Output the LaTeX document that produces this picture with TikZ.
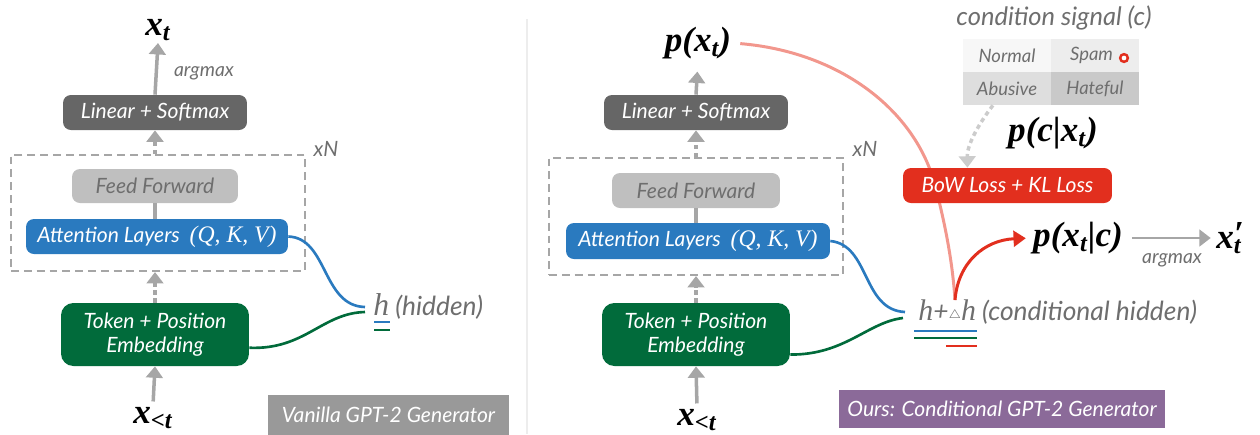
\documentclass[tikz,border=0pt]{standalone}
\usepackage{fontspec}
\setmainfont{Lato}
\newfontfamily\serifa{Liberation Serif}
\usetikzlibrary{arrows.meta}
\definecolor{grisosc}{HTML}{666666}
\definecolor{grisff}{HTML}{BFBFBF}
\definecolor{azul}{HTML}{2A7ABF}
\definecolor{verde}{HTML}{016B3B}
\definecolor{rojo}{HTML}{E22F1E}
\definecolor{rosa}{HTML}{F2978D}
\definecolor{gristexto}{HTML}{6E6E6E}
\definecolor{gflecha}{HTML}{A6A6A6}
\definecolor{morado}{HTML}{8B6A99}
\definecolor{grisbanda}{HTML}{999999}
\newcommand{\qkv}{{\serifa\fontsize{13.5}{14}\selectfont(Q, K, V)}}
\tikzset{
  caja/.style={rounded corners=4.5pt, inner sep=0pt, align=center, text=white, font=\fontsize{12}{13.5}\selectfont\itshape},
  flecha/.style={draw=gflecha, line width=2pt, -{Triangle[length=6.5pt,width=9.5pt]}},
  punteada/.style={flecha, dash pattern=on 2.5pt off 2pt},
  marco/.style={draw=gflecha, line width=1.2pt, dash pattern=on 4.5pt off 2.8pt, inner sep=0pt},
  mate/.style={inner sep=1pt, font=\serifa\bfseries\itshape\fontsize{20}{22}\selectfont},
  nota/.style={inner sep=0pt, text=gristexto, font=\fontsize{11}{13}\selectfont\itshape},
  curva/.style={line width=1.5pt},
  banda/.style={inner sep=0pt, text=white, font=\fontsize{12}{14}\selectfont\itshape},
  celda/.style={inner sep=0pt, minimum width=1.76cm, minimum height=0.66cm, text=gristexto, font=\fontsize{10.5}{12}\selectfont\itshape}
}
\begin{document}
\begin{tikzpicture}[x=0.02cm,y=-0.02cm]
\useasboundingbox (0,0) rectangle (1260,434); % marco de la figura
% generador GPT-2 simple
\node[mate] (xt1) at (158,30) {x\textsubscript{t}}; % salida
\node[caja, fill=grisosc, minimum width=3.68cm, minimum height=0.7cm] (lin1) at (155,112.5) {Linear + Softmax};
\node[nota] (am1) at (204,73) {argmax};
\node[marco, minimum width=5.88cm, minimum height=2.32cm] (rep1) at (158,213) {}; % bloque repetido
\node[nota, font=\fontsize{12}{14}\selectfont\itshape] (xn1) at (326,149) {xN};
\node[caja, fill=grisff, text=gristexto, minimum width=3.32cm, minimum height=0.68cm] (ff1) at (155,186) {Feed Forward};
\node[caja, fill=azul, minimum width=5.24cm, minimum height=0.7cm] (att1) at (157,236.5) {Attention Layers\ \ \qkv};
\node[caja, fill=verde, rounded corners=7pt, minimum width=3.76cm, minimum height=1.26cm] (tok1) at (155,334.5) {Token + Position\\Embedding};
\node[mate] (xlt1) at (153,418) {x\textsubscript{<t}}; % entrada
\node[nota, anchor=west, font=\fontsize{15}{17}\selectfont\itshape] (hid1) at (373,306) {{\serifa\fontsize{18}{20}\selectfont h} (hidden)};
\coordinate (hin1) at (365,307);
\coordinate (hin1b) at (365,312);
\draw[flecha] (lin1.north) -- (xt1.south);
\draw[punteada] (rep1.north -| lin1.south) -- (lin1.south);
\draw[gflecha, line width=2pt] (ff1.south) -- (ff1.south |- att1.north);
\draw[punteada] (tok1.north) -- (tok1.north |- rep1.south);
\draw[flecha, shorten <=2pt] (xlt1.north) -- (tok1.south);
\draw[curva, azul] (att1.east) .. controls (328,238) and (322,306) .. (hin1); % h desde atencion
\draw[curva, verde] (tok1.-8) .. controls (305,350) and (322,313) .. (hin1b); % h desde embedding
\draw[azul, line width=1.6pt] (374,322) -- (390,322);
\draw[verde, line width=1.6pt] (374,330) -- (390,330);
\node[banda, fill=grisbanda, minimum width=4.82cm, minimum height=0.8cm] (van) at (388.5,415) {Vanilla GPT-2 Generator};
\draw[color=black!7, line width=1.5pt] (527,19) -- (527,434); % separador
% generador condicional
\node[mate] (px2) at (698,43) {p(x\textsubscript{t})};
\node[caja, fill=grisosc, minimum width=3.68cm, minimum height=0.7cm] (lin2) at (696,112.5) {Linear + Softmax};
\node[marco, minimum width=5.88cm, minimum height=2.34cm] (rep2) at (696,216.5) {};
\node[nota, font=\fontsize{12}{14}\selectfont\itshape] (xn2) at (865,149) {xN};
\node[caja, fill=grisff, text=gristexto, minimum width=3.36cm, minimum height=0.7cm] (ff2) at (696,190.5) {Feed Forward};
\node[caja, fill=azul, minimum width=5.28cm, minimum height=0.72cm] (att2) at (698,241) {Attention Layers\ \ \qkv};
\node[caja, fill=verde, rounded corners=7pt, minimum width=3.76cm, minimum height=1.26cm] (tok2) at (696,334.5) {Token + Position\\Embedding};
\node[mate] (xlt2) at (697,420) {x\textsubscript{<t}};
\draw[flecha, shorten >=6pt] (lin2.north) -- (px2.south);
\draw[punteada] (rep2.north -| lin2.south) -- (lin2.south);
\draw[gflecha, line width=2pt] (ff2.south) -- (ff2.south |- att2.north);
\draw[punteada] (tok2.north) -- (tok2.north |- rep2.south);
\draw[flecha, shorten <=2pt] (xlt2.north) -- (tok2.south);
\node[nota, anchor=west, font=\fontsize{15}{17}\selectfont\itshape] (hid2) at (918,312) {{\serifa\fontsize{17}{19}\selectfont h}+\raisebox{.15ex}{\scriptsize$\triangle$}{\serifa\fontsize{17}{19}\selectfont h} (conditional hidden)};
\coordinate (hin2) at (905,312);
\coordinate (hin2b) at (903,318);
\coordinate (hup) at (955,300); % punto de salida de la perturbacion
\draw[curva, azul] (att2.east) .. controls (870,245) and (862,310) .. (hin2);
\draw[curva, verde] (tok2.-12) .. controls (845,355) and (868,322) .. (hin2b);
\draw[azul, line width=1.6pt] (914,331) -- (977,331);
\draw[verde, line width=1.6pt] (914,338) -- (977,338);
\draw[rojo, line width=1.6pt] (946,346) -- (977,346);
\draw[rosa, line width=1.7pt, shorten <=4pt] (px2.east) .. controls (840,52) and (915,110) .. (935,185) .. controls (948,235) and (953,270) .. (hup); % p(x_t) hacia la perdida
% senal de condicion
\node[nota, font=\fontsize{14.5}{16}\selectfont\itshape] (cond) at (1054,18) {condition signal (c)};
\node[celda, fill=black!3] (normal) at (1007,55.5) {Normal};
\node[celda, fill=black!7] (spam) at (1095,55.5) {\hspace*{-4pt}Spam};
\node[celda, fill=black!13] (abus) at (1007,88.5) {Abusive};
\node[celda, fill=black!21] (hate) at (1095,88.5) {Hateful};
\draw[rojo, line width=1.4pt, fill=white] (1124,58) circle[radius=2.2pt]; % clase elegida
\node[mate] (pcx) at (1053,133) {p(c|x\textsubscript{t})};
\node[caja, fill=rojo, minimum width=4.18cm, minimum height=0.7cm] (bow) at (1007.5,185.5) {BoW Loss + KL Loss};
\draw[punteada, draw=black!20] (abus.-130) .. controls (978,125) and (967,145) .. (bow.156.6);
\node[mate] (pxc) at (1078,238) {p(x\textsubscript{t}|c)};
\node[mate] (xpt) at (1229,238) {x\rlap{\raisebox{.2ex}{′}}\textsubscript{t}};
\node[nota] (am2) at (1172,260) {argmax};
\draw[rojo, line width=1.7pt, -{Triangle[length=7pt,width=9pt]}, shorten >=3pt] (hup) .. controls (958,262) and (985,240) .. (pxc.west);
\draw[flecha, line width=1.6pt, shorten <=4pt, shorten >=2pt] (pxc.east) -- (xpt.west);
\node[banda, fill=morado, minimum width=6.52cm, minimum height=0.76cm] (ours) at (1002,409) {Ours: Conditional GPT-2 Generator};
\end{tikzpicture}
\end{document}
